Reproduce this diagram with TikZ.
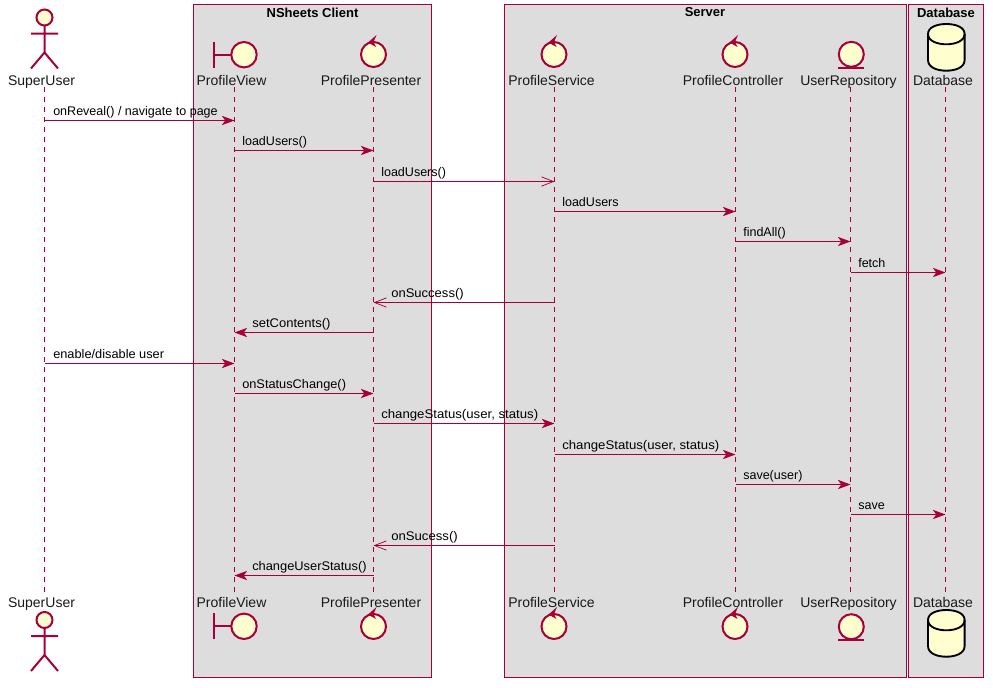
\documentclass[tikz,border=0pt]{standalone}
\usepackage{fontspec}
\setmainfont{Liberation Sans}
\usetikzlibrary{arrows.meta}
\definecolor{umlred}{HTML}{A80036}
\definecolor{umlfill}{HTML}{FEFECE}
\definecolor{umlbox}{HTML}{DDDDDD}
\tikzset{
  grp/.style={draw=umlred,fill=umlbox,line width=0.75pt,outer sep=0pt,inner sep=0pt,anchor=north west},
  grptitle/.style={font=\fontsize{9.75}{11}\selectfont\bfseries,inner sep=0pt,anchor=center},
  life/.style={draw=umlred,line width=0.75pt,dash pattern=on 3.75pt off 3.75pt},
  who/.style={font=\fontsize{10.5}{12}\selectfont,inner sep=0pt,text=black!90,anchor=base},
  lbl/.style={font=\fontsize{9.4}{11}\selectfont,inner sep=0pt,anchor=base west},
  syn/.style={draw=umlred,line width=0.75pt,-{Stealth[length=9.5pt,width=7pt,inset=2.6pt]}},
  asy/.style={draw=umlred,line width=0.75pt,-{Straight Barb[length=9pt,width=7pt,line width=0.55pt]}},
  sym/.style={draw=umlred,line width=1.5pt,fill=umlfill},
  symline/.style={draw=umlred,line width=1.5pt},
  dbs/.style={draw=black,line width=1.4pt,fill=umlfill},
}
\newcommand{\actorat}[2]{%
  \draw[sym] (#1,#2) circle (8);
  \draw[symline] (#1,#2+8) -- (#1,#2+35) (#1-13.5,#2+16) -- (#1+13.5,#2+16)
    (#1-13.5,#2+51) -- (#1,#2+35) -- (#1+13.5,#2+51);}
\newcommand{\boundaryat}[2]{%
  \draw[symline] (#1-30,#2-13) -- (#1-30,#2+13) (#1-30,#2) -- (#1-13,#2);
  \draw[sym] (#1,#2) circle (12.7);}
\newcommand{\controlat}[2]{%
  \draw[sym] (#1,#2) circle (12.5);
  \fill[umlred] (#1+3,#2-19.5) -- (#1-5.5,#2-12) -- (#1+2.5,#2-7.5) -- (#1,#2-12.5) -- cycle;}
\newcommand{\entityat}[2]{%
  \draw[sym] (#1,#2) circle (12.5);
  \draw[symline] (#1-13,#2+13.5) -- (#1+13,#2+13.5);}
\newcommand{\dbat}[2]{%
  \draw[dbs] (#1,#2) .. controls (#1+9,#2) and (#1+18.3,#2+3) .. (#1+18.3,#2+10)
    -- (#1+18.3,#2+36) .. controls (#1+18.3,#2+43.5) and (#1+9,#2+46.7) .. (#1,#2+46.7)
    .. controls (#1-9,#2+46.7) and (#1-18.3,#2+43.5) .. (#1-18.3,#2+36)
    -- (#1-18.3,#2+10) .. controls (#1-18.3,#2+3) and (#1-9,#2) .. (#1,#2) -- cycle;
  \draw[draw=black,line width=1.4pt] (#1-18.3,#2+10) .. controls (#1-18.3,#2+17) and (#1-9,#2+20.3) .. (#1,#2+20.3)
    .. controls (#1+9,#2+20.3) and (#1+18.3,#2+17) .. (#1+18.3,#2+10);}
\newcommand{\msg}[7][1]{% [xscale], style, from, to, y, label x, label
  \draw[#2] (#3 |- 0,#5+0.5) -- (#4 |- 0,#5+0.5);
  \node[lbl] (m#5) at (#6,#5-4.6) {\scalebox{#1}[1]{#7}};}
\begin{document}
\begin{tikzpicture}[x=0.75pt,y=-0.75pt]
\useasboundingbox (0,0) rectangle (993,687);
% groups
\node[grp,minimum width=178.5pt,minimum height=504.75pt] (gClient) at (193.5,4.5) {};
\node[grp,minimum width=301.5pt,minimum height=504.75pt] (gServer) at (504.5,4.5) {};
\node[grp,minimum width=56.25pt,minimum height=504.75pt] (gDb) at (908.5,4.5) {};
\node[grptitle] (tClient) at (312.5,12.5) {NSheets Client};
\node[grptitle] (tServer) at (705,12.5) {Server};
\node[grptitle] (tDb) at (946,12.5) {Database};
% lifeline ends
\foreach \n/\x in {su/44.5,pv/234.5,pp/373.5,ps/554.5,pc/735.5,ur/850.5,db/945.5}{
  \coordinate (\n T) at (\x,87);
  \coordinate (\n B) at (\x,593);
  \draw[life] (\n T) -- (\n B);
}
% symbols
\actorat{44.5}{17.5}
\actorat{44.5}{620}
\boundaryat{244}{54.7}
\boundaryat{244}{626.3}
\controlat{373.5}{54.5}
\controlat{373.5}{626.5}
\controlat{554}{54.5}
\controlat{554}{626.5}
\controlat{735}{54.5}
\controlat{735}{626.5}
\entityat{851.3}{54.3}
\entityat{851.3}{626.7}
\dbat{946.3}{24}
\dbat{946.3}{610}
% labels
\foreach \n/\x/\t in {su/41.5/SuperUser,pv/231.5/ProfileView,pp/371/ProfilePresenter,ps/551.5/ProfileService,pc/733/ProfileController,ur/848.5/UserRepository,db/943/Database}{
  \node[who] (\n Top) at (\x,85) {\t};
  \node[who] (\n Bot) at (\x,607) {\t};
}
% messages
\msg{syn}{suT}{pvT}{120}{53}{onReveal() / navigate to page}
\msg{syn}{pvT}{ppT}{150}{242}{loadUsers()}
\msg{asy}{ppT}{psT}{181}{381}{loadUsers()}
\msg{syn}{psT}{pcT}{211}{562}{loadUsers}
\msg{syn}{pcT}{urT}{241}{743}{findAll()}
\msg{syn}{urT}{dbT}{272}{858}{fetch}
\msg[1.04]{asy}{psT}{ppT}{302}{391}{onSuccess()}
\msg[1.04]{syn}{ppT}{pvT}{332}{252}{setContents()}
\msg[1.02]{syn}{suT}{pvT}{363}{53}{enable/disable user}
\msg[1.02]{syn}{pvT}{ppT}{393}{242}{onStatusChange()}
\msg[1.053]{syn}{ppT}{psT}{423}{381}{changeStatus(user, status)}
\msg[1.053]{syn}{psT}{pcT}{454}{562}{changeStatus(user, status)}
\msg{syn}{pcT}{urT}{484}{743}{save(user)}
\msg{syn}{urT}{dbT}{514}{858}{save}
\msg[1.05]{asy}{psT}{ppT}{545}{391}{onSucess()}
\msg[1.026]{syn}{ppT}{pvT}{575}{252}{changeUserStatus()}
\end{tikzpicture}
\end{document}
